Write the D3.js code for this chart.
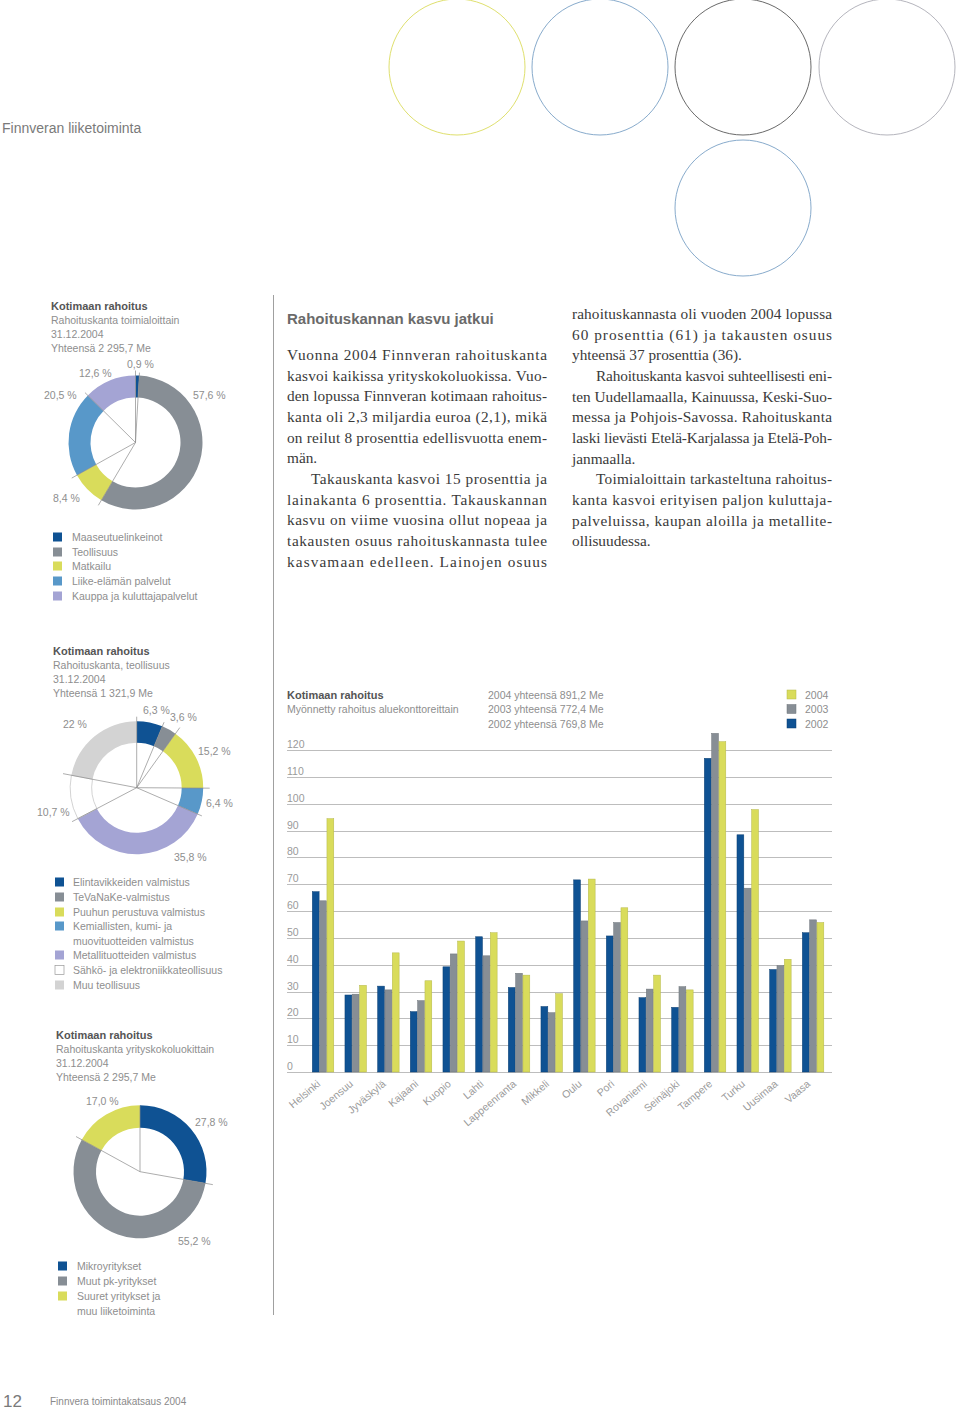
<!DOCTYPE html>
<html><head><meta charset="utf-8">
<script src="https://cdn.jsdelivr.net/npm/d3@7/dist/d3.min.js"></script>
<style>
html,body{margin:0;padding:0;background:#fff;}
svg text{font-family:"Liberation Sans",Arial,sans-serif;}
</style></head>
<body><svg id="page" width="960" height="1410"></svg>
<script>
// ---------- DATA ----------
const toimialaCats = ["Maaseutuelinkeinot","Teollisuus","Matkailu","Liike-elämän palvelut","Kauppa ja kuluttajapalvelut"];
const toimialaVals = [0.9, 57.6, 8.4, 20.5, 12.6];
const toimialaLabels = ["0,9 %","57,6 %","8,4 %","20,5 %","12,6 %"];

const teollCats = ["Elintavikkeiden valmistus","TeVaNaKe-valmistus","Puuhun perustuva valmistus","Kemiallisten, kumi- ja|muovituotteiden valmistus","Metallituotteiden valmistus","Sähkö- ja elektroniikkateollisuus","Muu teollisuus"];
const teollVals = [6.3, 3.6, 15.2, 6.4, 35.8, 10.7, 22];
const teollLabels = ["6,3 %","3,6 %","15,2 %","6,4 %","35,8 %","10,7 %","22 %"];

const kokoCats = ["Mikroyritykset","Muut pk-yritykset","Suuret yritykset ja|muu liiketoiminta"];
const kokoVals = [27.8, 55.2, 17.0];
const kokoLabels = ["27,8 %","55,2 %","17,0 %"];

const regions = ["Helsinki","Joensuu","Jyväskylä","Kajaani","Kuopio","Lahti","Lappeenranta","Mikkeli","Oulu","Pori","Rovaniemi","Seinäjoki","Tampere","Turku","Uusimaa","Vaasa"];
const years = ["2002","2003","2004"];
const v2002 = [67.2, 28.7, 32.0, 22.5, 39.2, 50.4, 31.5, 24.4, 71.6, 50.7, 27.7, 24.1, 116.9, 88.4, 38.2, 51.9];
const v2003 = [63.8, 29.0, 30.6, 26.6, 44.0, 43.3, 36.8, 22.1, 56.3, 55.7, 30.9, 31.8, 126.2, 68.5, 39.6, 56.7];
const v2004 = [94.4, 32.3, 44.4, 34.0, 48.8, 51.9, 36.1, 29.2, 71.9, 61.2, 36.1, 30.6, 123.1, 97.8, 42.0, 55.7];
const yTicks = [0,10,20,30,40,50,60,70,80,90,100,110,120];
const totals = ["2004 yhteensä 891,2 Me","2003 yhteensä 772,4 Me","2002 yhteensä 769,8 Me"];

const col1 = [
 ["Vuonna 2004 Finnveran rahoituskanta",1,0],
 ["kasvoi kaikissa yrityskokoluokissa. Vuo-",1,0],
 ["den lopussa Finnveran kotimaan rahoitus-",1,0],
 ["kanta oli 2,3 miljardia euroa (2,1), mikä",1,0],
 ["on reilut 8 prosenttia edellisvuotta enem-",1,0],
 ["män.",0,0],
 ["Takauskanta kasvoi 15 prosenttia ja",1,1],
 ["lainakanta 6 prosenttia. Takauskannan",1,0],
 ["kasvu on viime vuosina ollut nopeaa ja",1,0],
 ["takausten osuus rahoituskannasta tulee",1,0],
 ["kasvamaan edelleen. Lainojen osuus",1,0]
];
const col2 = [
 ["rahoituskannasta oli vuoden 2004 lopussa",1,0],
 ["60 prosenttia (61) ja takausten osuus",1,0],
 ["yhteensä 37 prosenttia (36).",0,0],
 ["Rahoituskanta kasvoi suhteellisesti eni-",1,1],
 ["ten Uudellamaalla, Kainuussa, Keski-Suo-",1,0],
 ["messa ja Pohjois-Savossa. Rahoituskanta",1,0],
 ["laski lievästi Etelä-Karjalassa ja Etelä-Poh-",1,0],
 ["janmaalla.",0,0],
 ["Toimialoittain tarkasteltuna rahoitus-",1,1],
 ["kanta kasvoi erityisen paljon kuluttaja-",1,0],
 ["palveluissa, kaupan aloilla ja metallite-",1,0],
 ["ollisuudessa.",0,0]
];

// ---------- STYLE ----------
const C = {blue:"#0f5293", grey:"#878e95", yellow:"#d9dc5b", lblue:"#5898c9", lav:"#a4a4d4", lgrey:"#d3d3d3", white:"#ffffff"};
const txt = "#8e8e8e", dark = "#555";

const svg = d3.select("#page");

// decorative circles
[[457,67,"#dfe06e"],[600,67,"#88abcc"],[743,67,"#6a6a6a"],[887,67,"#b5b5bd"],[743,208,"#88abcc"]].forEach(c=>{
  svg.append("circle").attr("cx",c[0]).attr("cy",c[1]).attr("r",68).attr("fill","none").attr("stroke",c[2]).attr("stroke-width",1);
});
svg.append("text").attr("x",2).attr("y",133).attr("font-size",14).attr("fill","#7a7a7a").text("Finnveran liiketoiminta");

// divider
svg.append("line").attr("x1",273.5).attr("x2",273.5).attr("y1",295).attr("y2",1315).attr("stroke","#a0a0a0").attr("stroke-width",1);

// footer
svg.append("text").attr("x",3).attr("y",1407).attr("font-size",17).attr("fill","#7a7a7a").text("12");
svg.append("text").attr("x",50).attr("y",1405).attr("font-size",10).attr("fill","#8a8a8a").text("Finnvera toimintakatsaus 2004");

function titleBlock(x, y, lines){
  lines.forEach((t,i)=>{
    svg.append("text").attr("x",x).attr("y",y+i*14)
      .attr("font-size", i===0?11:10.5).attr("font-weight", i===0?"bold":"normal")
      .attr("fill", i===0?dark:txt).text(t);
  });
}

function donut(cfg){
  const g = svg.append("g").attr("transform",`translate(${cfg.cx},${cfg.cy})`);
  const pie = d3.pie().sort(null).value(d=>d.v);
  const arcs = pie(cfg.vals.map((v,i)=>({v, c:cfg.colors[i]})));
  const arc = d3.arc().innerRadius(cfg.ri).outerRadius(cfg.ro);
  g.selectAll("path.seg").data(arcs).join("path").attr("class","seg")
    .attr("d",arc).attr("fill",d=>d.data.c)
    .attr("stroke",d=>d.data.c==="#ffffff"?"#c8c8c8":"none").attr("stroke-width",0.8);
  const bounds = [0, ...arcs.map(a=>a.endAngle).slice(0,-1)];
  bounds.forEach((a,i)=>{
    const r = cfg.lineR[i];
    g.append("line").attr("x1",0).attr("y1",0)
      .attr("x2",Math.sin(a)*r).attr("y2",-Math.cos(a)*r)
      .attr("stroke","#8a8a8a").attr("stroke-width",0.7);
  });
  cfg.labels.forEach((t,i)=>{
    svg.append("text").attr("x",cfg.labelPos[i][0]).attr("y",cfg.labelPos[i][1])
      .attr("font-size",10.5).attr("fill",txt).text(t);
  });
  cfg.cats.forEach((c,i)=>{
    const parts = c.split("|");
    const y = cfg.legY[i];
    svg.append("rect").attr("x",cfg.legX).attr("y",y-4.5).attr("width",9).attr("height",9)
      .attr("fill",cfg.colors[i]).attr("stroke",cfg.colors[i]==="#ffffff"?"#999":"none").attr("stroke-width",0.7);
    parts.forEach((p,j)=>{
      svg.append("text").attr("x",cfg.legTX).attr("y",y+4+j*14.6).attr("font-size",10.5).attr("fill",txt).text(p);
    });
  });
}

// Donut 1
titleBlock(51, 310, ["Kotimaan rahoitus","Rahoituskanta toimialoittain","31.12.2004","Yhteensä 2 295,7 Me"]);
donut({cx:135.5, cy:442.5, ri:45, ro:67, vals:toimialaVals, colors:[C.blue,C.grey,C.yellow,C.lblue,C.lav],
  lineR:[72,70,73,73,71], labels:toimialaLabels,
  labelPos:[[127,368],[193,399],[53,502],[44,399],[79,377]],
  cats:toimialaCats, legX:53, legTX:72, legY:[537,552,566,581,596]});

// Donut 2
titleBlock(53, 655, ["Kotimaan rahoitus","Rahoituskanta, teollisuus","31.12.2004","Yhteensä 1 321,9 Me"]);
donut({cx:136.7, cy:787.7, ri:45, ro:66.5, vals:teollVals, colors:[C.blue,C.grey,C.yellow,C.lblue,C.lav,C.white,C.lgrey],
  lineR:[71,71,74,73,71,73,75], labels:teollLabels,
  labelPos:[[143,714],[170,721],[198,755],[206,807],[174,861],[37,816],[63,728]],
  cats:teollCats, legX:55, legTX:73, legY:[882,897,912,926,955,970,985]});

// Donut 3
titleBlock(56, 1039, ["Kotimaan rahoitus","Rahoituskanta yrityskokoluokittain","31.12.2004","Yhteensä 2 295,7 Me"]);
donut({cx:140, cy:1171.7, ri:44, ro:66.5, vals:kokoVals, colors:[C.blue,C.grey,C.yellow],
  lineR:[66,74,73], labels:kokoLabels,
  labelPos:[[195,1126],[178,1245],[86,1105]],
  cats:kokoCats, legX:58, legTX:77, legY:[1266,1281,1296]});

// ---------- BAR CHART ----------
const y = d3.scaleLinear().domain([0,120]).range([1072,750]);
const x = d3.scaleBand().domain(regions).range([306.7,829.4]).paddingInner(0.327).paddingOuter(0.1635);
const xs = d3.scaleBand().domain(years).range([0,x.bandwidth()]);
const series = {"2002":v2002,"2003":v2003,"2004":v2004};
const scol = {"2002":C.blue,"2003":C.grey,"2004":C.yellow};
const sstroke = {"2002":"#0b3f72","2003":"#6e747a","2004":"#b5b84a"};

const grid = svg.append("g");
yTicks.forEach(t=>{
  grid.append("line").attr("x1",287).attr("x2",832).attr("y1",Math.round(y(t))+0.5).attr("y2",Math.round(y(t))+0.5)
    .attr("stroke","#bdbdbd").attr("stroke-width",1);
  grid.append("text").attr("x",287).attr("y",y(t)-2).attr("font-size",10.5).attr("fill","#9a9a9a").text(t);
});

const bars = svg.append("g");
years.forEach(yr=>{
  bars.selectAll(null).data(regions).join("rect")
    .attr("x",(d)=>x(d)+xs(yr)+0.25).attr("width",xs.bandwidth()-0.5)
    .attr("y",(d,i)=>y(series[yr][i])).attr("height",(d,i)=>y(0)-y(series[yr][i]))
    .attr("fill",scol[yr]).attr("stroke",sstroke[yr]).attr("stroke-width",0.5);
});

svg.append("g").selectAll("text").data(regions).join("text")
  .attr("transform",d=>`translate(${x(d)+x.bandwidth()/2-2},${y(0)+13}) rotate(-40)`)
  .attr("text-anchor","end").attr("font-size",10.5).attr("fill","#9a9a9a").text(d=>d);

svg.append("text").attr("x",287).attr("y",699).attr("font-size",11).attr("font-weight","bold").attr("fill",dark).text("Kotimaan rahoitus");
svg.append("text").attr("x",287).attr("y",713).attr("font-size",10.5).attr("fill",txt).text("Myönnetty rahoitus aluekonttoreittain");
totals.forEach((t,i)=>svg.append("text").attr("x",488).attr("y",699+i*14.3).attr("font-size",10.5).attr("fill",txt).text(t));
["2004","2003","2002"].forEach((yr,i)=>{
  svg.append("rect").attr("x",787).attr("y",690+i*14.5).attr("width",9).attr("height",9).attr("fill",scol[yr]).attr("stroke",sstroke[yr]).attr("stroke-width",0.5);
  svg.append("text").attr("x",805).attr("y",698.5+i*14.5).attr("font-size",10.5).attr("fill",txt).text(yr);
});

// ---------- BODY TEXT ----------
svg.append("text").attr("x",287).attr("y",324).attr("font-size",15).attr("font-weight","bold").attr("fill","#6a6a6a").text("Rahoituskannan kasvu jatkui");
function column(x0, w, y0, lines){
  lines.forEach((l,i)=>{
    const ind = l[2]?24:0;
    const t = svg.append("text").attr("x",x0+ind).attr("y",y0+i*20.65)
      .style("font-family","'Liberation Serif','Times New Roman',serif")
      .attr("font-size",15.3).attr("fill","#3a3a3a").text(l[0]);
    if(l[1]) t.attr("textLength",w-ind).attr("lengthAdjust","spacing");
  });
}
column(287, 260, 360, col1);
column(572, 260, 319, col2);
</script></body></html>
